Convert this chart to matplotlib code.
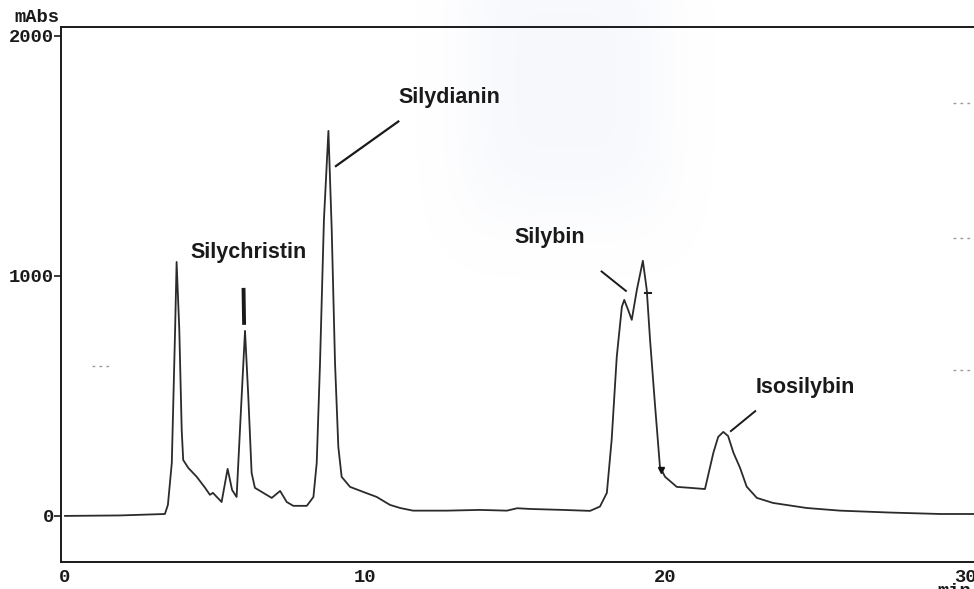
import numpy as np
import matplotlib
matplotlib.use("Agg")
import matplotlib.pyplot as plt

# HPLC trace of silymarin extract: retention time (min) vs absorbance (mAbs)
time_min = [0.0, 1.83, 3.33, 3.43, 3.56, 3.67, 3.72, 3.81, 3.89, 3.94,
            4.11, 4.39, 4.67, 4.83, 4.93, 5.22, 5.42, 5.57, 5.72, 5.86,
            6.0, 6.11, 6.22, 6.33, 6.61, 6.89, 7.17, 7.39, 7.61, 8.06,
            8.28, 8.39, 8.5, 8.63, 8.78, 8.89, 9.0, 9.11, 9.22, 9.5,
            9.94, 10.39, 10.83, 11.17, 11.6, 12.73, 13.83, 14.73, 15.07, 15.5,
            16.6, 17.5, 17.83, 18.06, 18.22, 18.39, 18.56, 18.64, 18.77, 18.89,
            19.06, 19.26, 19.39, 19.5, 19.67, 19.83, 20.0, 20.39, 20.83, 21.33,
            21.61, 21.77, 21.94, 22.1, 22.28, 22.5, 22.72, 23.06, 23.6, 24.72,
            25.83, 27.5, 29.17, 30.3]
absorbance = [0, 2, 8, 46, 221, 775, 1058, 775, 358, 233,
              200, 163, 117, 88, 96, 58, 196, 108, 79, 429,
              771, 496, 179, 117, 96, 75, 104, 58, 42, 42,
              79, 221, 637, 1233, 1604, 1192, 637, 288, 163, 121,
              100, 79, 46, 33, 22, 22, 25, 22, 32, 29,
              25, 21, 39, 96, 317, 663, 871, 900, 858, 817,
              942, 1063, 942, 733, 454, 204, 163, 121, 117, 112,
              263, 329, 350, 333, 263, 200, 122, 75, 54, 33,
              22, 14, 8, 8]

# peak names: label centre (t, mAbs) and leader line endpoints
peak_names = ["Silychristin", "Silydianin", "Silybin", "Isosilybin"]
label_xy = [(6.13, 1096), (12.8, 1742), (16.17, 1158), (24.67, 533)]
line_from = [(5.95, 950), (11.14, 1646), (17.86, 1021), (23.03, 439)]
line_to = [(5.97, 796), (9.0, 1455), (18.72, 935), (22.17, 351)]
line_widths = [2.8, 1.6, 1.4, 1.4]

yticks = [0, 1000, 2000]
xticks = [0, 10, 20, 30]

W, H = 974, 589
fig = plt.figure(figsize=(W / 100, H / 100), dpi=100)

# faint bluish smudge on the scanned page
gy, gx = np.mgrid[0:H, 0:W]
haze = np.exp(-(((gx - 565) / 105.0) ** 4 + ((gy - 80) / 140.0) ** 4))
rgba = np.zeros((H, W, 4))
rgba[..., 0] = 0.86
rgba[..., 1] = 0.89
rgba[..., 2] = 0.96
rgba[..., 3] = 0.22 * haze
bg = fig.add_axes([0, 0, 1, 1])
bg.imshow(rgba, aspect="auto", interpolation="bilinear")
bg.axis("off")

ax = fig.add_axes([61 / W, 1 - 562 / H, (990 - 61) / W, (562 - 27) / H])
ax.patch.set_alpha(0)
ax.set_xlim(-0.133, 30.83)
ax.set_ylim(-192, 2037)

ax.plot(time_min, absorbance, color="#2b2b2b", lw=1.3, solid_joinstyle="round")

for name, lxy, p0, p1, lw in zip(peak_names, label_xy, line_from, line_to, line_widths):
    ax.plot([p0[0], p1[0]], [p0[1], p1[1]], color="#1a1a1a", lw=lw, solid_capstyle="butt")
    ax.text(lxy[0], lxy[1], name, ha="center", va="center", fontsize=15.5,
            fontweight="bold", family="Liberation Sans", color="#1a1a1a")

# pen marks on the Silybin tail
ax.plot([19.33, 19.53], [929, 929], color="#222222", lw=1.5)
ax.plot([19.87], [192], marker="v", color="#111111", ms=5)

mono = dict(family="Liberation Mono", fontweight="bold", color="#1a1a1a")
ax.set_yticks(yticks)
ax.set_yticklabels([str(v) for v in yticks], fontsize=13.5, **mono)
ax.set_xticks(xticks)
ax.set_xticklabels([str(v) for v in xticks], fontsize=13.5, **mono)
ax.tick_params(axis="y", length=5, width=1.2, pad=0, color="#1a1a1a")
ax.tick_params(axis="x", length=0, pad=5)

for side in ["left", "bottom", "top"]:
    ax.spines[side].set_linewidth(1.4)
    ax.spines[side].set_color("#1a1a1a")
ax.spines["right"].set_visible(False)

fig.text(14 / W, 1 - 17 / H, "mAbs", fontsize=13.5, va="center", ha="left", **mono)
fig.text(937 / W, 1 - 583 / H, "min", fontsize=13.5, va="top", ha="left", **mono)

# stray dots from the scan
for (x0, x1, y0) in [(953, 970, 103), (953, 970, 238), (953, 970, 370), (92, 112, 366)]:
    fig.add_artist(plt.Line2D([x0 / W, x1 / W], [1 - y0 / H, 1 - y0 / H],
                              color="#9a9a9a", lw=1.0, ls=(0, (2, 3))))

fig.savefig("out.png", dpi=100)
